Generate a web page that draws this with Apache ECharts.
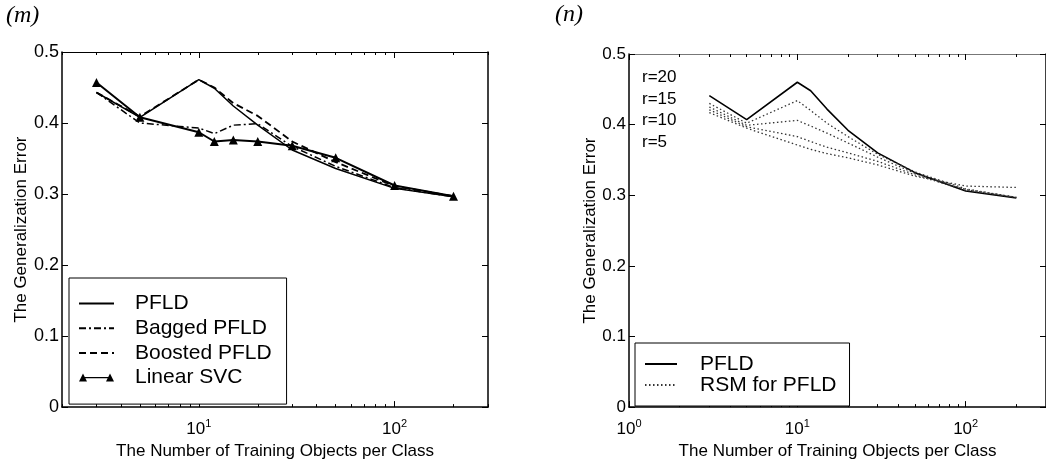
<!DOCTYPE html>
<html>
<head>
<meta charset="utf-8">
<script src="https://cdn.jsdelivr.net/npm/echarts@6/dist/echarts.min.js"></script>
<style>html,body{margin:0;padding:0;background:#fff}#c{width:1046px;height:465px}</style>
</head>
<body>
<div id="c"></div>
<script>
// ---- data ----
const trainSizes = [3, 5, 10, 12, 15, 20, 30, 50, 100, 200];
// panel (m)
const pfldM    = [0.443, 0.408, 0.461, 0.449, 0.424, 0.397, 0.362, 0.336, 0.308, 0.296];
const baggedM  = [0.443, 0.400, 0.393, 0.385, 0.397, 0.399, 0.367, 0.339, 0.309, 0.296];
const boostedM = [0.443, 0.409, 0.461, 0.450, 0.428, 0.410, 0.374, 0.345, 0.311, 0.297];
const svcM     = [0.457, 0.408, 0.387, 0.374, 0.376, 0.374, 0.368, 0.351, 0.312, 0.297];
// panel (n)
const pfldN  = [0.441, 0.407, 0.460, 0.448, 0.422, 0.392, 0.360, 0.332, 0.306, 0.296];
const rsm20  = [0.430, 0.402, 0.434, 0.420, 0.402, 0.383, 0.358, 0.333, 0.309, 0.297];
const rsm15  = [0.425, 0.399, 0.406, 0.398, 0.388, 0.374, 0.354, 0.331, 0.308, 0.297];
const rsm10  = [0.421, 0.397, 0.383, 0.376, 0.368, 0.360, 0.348, 0.329, 0.307, 0.297];
const rsm5   = [0.417, 0.395, 0.371, 0.365, 0.359, 0.353, 0.343, 0.327, 0.313, 0.311];
const rLabels = ['r=20', 'r=15', 'r=10', 'r=5'];
// ticks
const majorTicksM = [10, 100];
const majorTicksN = [1, 10, 100];
const minorTicks = [2, 3, 4, 5, 6, 7, 8, 9, 20, 30, 40, 50, 60, 70, 80, 90, 200, 300];

const FONT = 'Liberation Sans, Arial, Helvetica, sans-serif';
const pair = arr => trainSizes.map((x, i) => [x, arr[i]]);

function xAxes(grid, min, max, majors, topColor) {
  const base = {type: 'log', logBase: 10, min: min, max: max, gridIndex: grid, splitLine: {show: false}};
  const name = 'The Number of Training Objects per Class';
  return [
    Object.assign({}, base, {
      position: 'bottom',
      name: name, nameLocation: 'middle', nameGap: 30,
      nameTextStyle: {fontFamily: FONT, fontSize: 17, color: '#000'},
      axisLine: {show: true, lineStyle: {color: '#000', width: 1.5}},
      axisTick: {show: true, inside: true, length: 6, customValues: majors, lineStyle: {color: '#000'}},
      axisLabel: {show: true, customValues: majors, margin: 11, color: '#000',
        formatter: v => '{b|10}{s|' + Math.round(Math.log10(v)) + '}',
        rich: {b: {fontFamily: FONT, fontSize: 17, color: '#000'},
               s: {fontFamily: FONT, fontSize: 11, color: '#000', padding: [0, 0, 12, 0]}}}
    }),
    Object.assign({}, base, {
      position: 'bottom', axisLine: {show: false},
      axisTick: {show: true, inside: true, length: 3, customValues: minorTicks, lineStyle: {color: '#000'}},
      axisLabel: {show: false}
    }),
    Object.assign({}, base, {
      position: 'top', axisLine: {show: true, lineStyle: {color: topColor, width: 1.2}},
      axisTick: {show: true, inside: true, length: 6, customValues: majors, lineStyle: {color: '#000'}},
      axisLabel: {show: false}
    }),
    Object.assign({}, base, {
      position: 'top', axisLine: {show: false},
      axisTick: {show: true, inside: true, length: 3, customValues: minorTicks, lineStyle: {color: '#000'}},
      axisLabel: {show: false}
    })
  ];
}

function yAxes(grid, labelSize, gap) {
  const base = {type: 'value', min: 0, max: 0.5, interval: 0.1, gridIndex: grid, splitLine: {show: false}};
  return [
    Object.assign({}, base, {
      position: 'left',
      name: 'The Generalization Error', nameLocation: 'middle', nameGap: gap,
      nameTextStyle: {fontFamily: FONT, fontSize: 17, color: '#000'},
      axisLine: {show: true, lineStyle: {color: '#000', width: 1.5}},
      axisTick: {show: true, inside: true, length: 6, lineStyle: {color: '#000'}},
      axisLabel: {show: true, margin: 3, fontFamily: FONT, fontSize: labelSize, color: '#000',
        formatter: v => (v === 0 ? '0' : v.toFixed(1))}
    }),
    Object.assign({}, base, {
      position: 'right',
      axisLine: {show: true, lineStyle: {color: '#000', width: 1.5}},
      axisTick: {show: true, inside: true, length: 6, lineStyle: {color: '#000'}},
      axisLabel: {show: false}
    })
  ];
}

const chart = echarts.init(document.getElementById('c'), null, {renderer: 'canvas'});

const lineBase = {type: 'line', showSymbol: false, symbol: 'none', animation: false, z: 3};

const svcIcon = 'path://M0,12L4,4L8,12Z M4,7.4H31V8.6H4Z M27,12L31,4L35,12Z';

const option = {
  animation: false,
  backgroundColor: '#fff',
  grid: [
    {left: 62, top: 52, width: 426, height: 360},
    {left: 629, top: 54, width: 421, height: 360}
  ],
  xAxis: [].concat(xAxes(0, 2, 300, majorTicksM, '#000'), xAxes(1, 1, 300, majorTicksN, '#777')),
  yAxis: [].concat(yAxes(0, 18, 25), yAxes(1, 17, 28)),
  legend: [
    {
      orient: 'vertical', left: 69, top: 278,
      padding: [15, 15, 16, 9], itemGap: 3.7, itemWidth: 35, itemHeight: 14,
      borderColor: '#000', borderWidth: 1, backgroundColor: '#fff',
      itemStyle: {opacity: 0},
      textStyle: {fontFamily: FONT, fontSize: 21, lineHeight: 21, color: '#000', padding: [0, 0, 0, 16]},
      data: [
        {name: 'PFLD'},
        {name: 'Bagged PFLD'},
        {name: 'Boosted PFLD'},
        {name: 'Linear SVC', icon: svcIcon, itemStyle: {opacity: 1, color: '#000'}}
      ],
      selectedMode: false
    },
    {
      orient: 'vertical', left: 635, top: 343,
      padding: [10.5, 13, 10.5, 9], itemGap: 0, itemWidth: 32, itemHeight: 14,
      borderColor: '#000', borderWidth: 1, backgroundColor: '#fff',
      itemStyle: {opacity: 0},
      textStyle: {fontFamily: FONT, fontSize: 21, lineHeight: 21, color: '#000', padding: [0, 0, 0, 18]},
      data: [{name: 'PFLD'}, {name: 'RSM for PFLD'}],
      selectedMode: false
    }
  ],
  graphic: [
    {type: 'text', left: 6, top: 4, style: {text: '(m)', font: 'italic 24px "Liberation Serif", "Times New Roman", serif', fill: '#000'}},
    {type: 'text', left: 555, top: 3, style: {text: '(n)', font: 'italic 24px "Liberation Serif", "Times New Roman", serif', fill: '#000'}},
    {type: 'text', left: 642, top: 69, style: {text: rLabels[0], font: '17px ' + FONT, fill: '#000'}},
    {type: 'text', left: 642, top: 90.5, style: {text: rLabels[1], font: '17px ' + FONT, fill: '#000'}},
    {type: 'text', left: 642, top: 112, style: {text: rLabels[2], font: '17px ' + FONT, fill: '#000'}},
    {type: 'text', left: 642, top: 134, style: {text: rLabels[3], font: '17px ' + FONT, fill: '#000'}}
  ],
  series: [
    Object.assign({}, lineBase, {name: 'PFLD', xAxisIndex: 0, yAxisIndex: 0, data: pair(pfldM),
      lineStyle: {color: '#000', width: 1.5, type: 'solid'}, itemStyle: {color: '#000'}}),
    Object.assign({}, lineBase, {name: 'Bagged PFLD', xAxisIndex: 0, yAxisIndex: 0, data: pair(baggedM),
      lineStyle: {color: '#000', width: 1.5, type: [7, 3, 2, 3]}, itemStyle: {color: '#000'}}),
    Object.assign({}, lineBase, {name: 'Boosted PFLD', xAxisIndex: 0, yAxisIndex: 0, data: pair(boostedM),
      lineStyle: {color: '#000', width: 1.8, type: [7, 4]}, itemStyle: {color: '#000'}}),
    Object.assign({}, lineBase, {name: 'Linear SVC', xAxisIndex: 0, yAxisIndex: 0, data: pair(svcM),
      showSymbol: true, symbol: 'triangle', symbolSize: 9,
      lineStyle: {color: '#000', width: 2, type: 'solid'}, itemStyle: {color: '#000'}}),
    Object.assign({}, lineBase, {name: 'PFLD', xAxisIndex: 4, yAxisIndex: 2, data: pair(pfldN),
      lineStyle: {color: '#000', width: 1.6, type: 'solid'}, itemStyle: {color: '#000'}}),
    Object.assign({}, lineBase, {name: 'RSM for PFLD', xAxisIndex: 4, yAxisIndex: 2, data: pair(rsm20),
      lineStyle: {color: '#333', width: 1.3, type: [1.5, 2.5]}, itemStyle: {color: '#333'}}),
    Object.assign({}, lineBase, {name: 'RSM for PFLD', xAxisIndex: 4, yAxisIndex: 2, data: pair(rsm15),
      lineStyle: {color: '#333', width: 1.3, type: [1.5, 2.5]}, itemStyle: {color: '#333'}}),
    Object.assign({}, lineBase, {name: 'RSM for PFLD', xAxisIndex: 4, yAxisIndex: 2, data: pair(rsm10),
      lineStyle: {color: '#333', width: 1.3, type: [1.5, 2.5]}, itemStyle: {color: '#333'}}),
    Object.assign({}, lineBase, {name: 'RSM for PFLD', xAxisIndex: 4, yAxisIndex: 2, data: pair(rsm5),
      lineStyle: {color: '#333', width: 1.3, type: [1.5, 2.5]}, itemStyle: {color: '#333'}})
  ]
};
chart.setOption(option);
</script>
</body>
</html>
